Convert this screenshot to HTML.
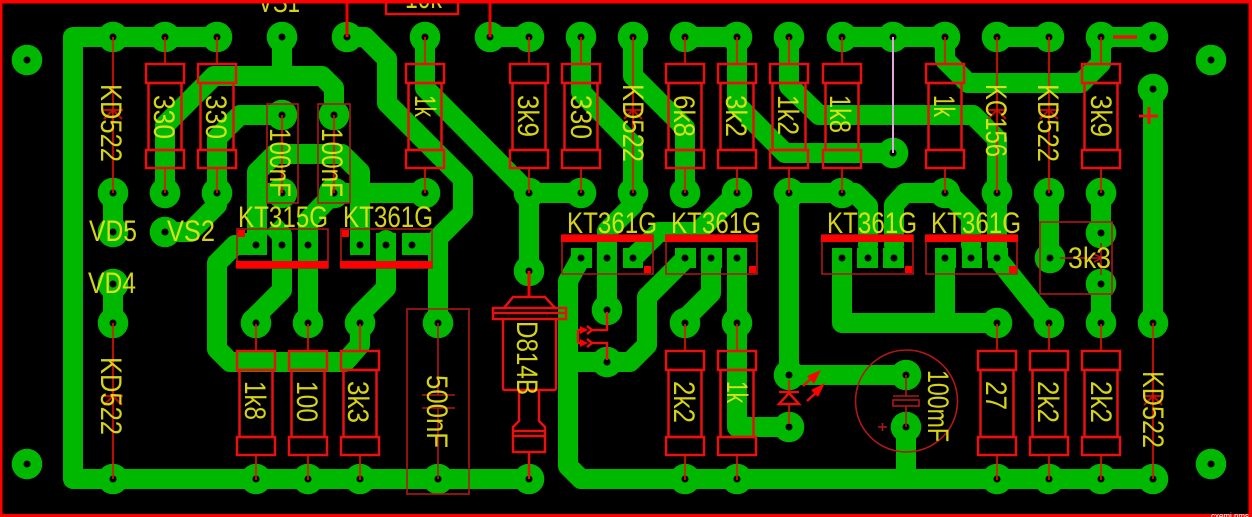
<!DOCTYPE html>
<html><head><meta charset="utf-8"><style>
html,body{margin:0;padding:0;background:#000}
svg{display:block}
text{font-family:"Liberation Sans",sans-serif;font-size:30px;fill:#e8e41c;fill-opacity:.92}
.t{fill:none;stroke:#00b800;stroke-width:20;stroke-linejoin:round;stroke-linecap:round}
.p{fill:#00b800}
.r{fill:none;stroke:#e81010;stroke-width:2.5}
.d{fill:none;stroke:#b01818;stroke-width:1.6}
.l{fill:none;stroke:#e01408;stroke-opacity:.8;stroke-width:2.2}
.b{fill:#ff0000}
</style></head><body>
<svg width="1252" height="517" viewBox="0 0 1252 517" xmlns="http://www.w3.org/2000/svg">
<defs>
<g id="pad"><circle r="15.3" class="p"/><circle r="3.5" fill="#000"/></g>
<g id="res"><path class="l" d="M0 0V27M0 131V156"/><rect x="-19" y="27" width="38" height="19" class="r"/><rect x="-19" y="113" width="38" height="18" class="r"/><rect x="-16.5" y="46" width="33" height="67" class="r"/></g>
<circle id="h" r="3.5" fill="#000"/>
<g id="dio"><path class="l" d="M0 0V156"/><path class="l" d="M-10 73H10M0 73L-9 82M0 73L9 82" stroke-width="1.2"/></g>
</defs>
<rect width="1252" height="517" fill="#000"/>

<!-- traces -->
<g class="t">
<path d="M217 37H73V479H529"/>
<path d="M282 37V76M165 193V125L214 76H322L334 88V115"/>
<path d="M282 115H240L217 138V205L190 232H165"/>
<path d="M256 245H257V172L275 154H342L360 172V245M257 193H282M334 193H425"/>
<path d="M256 245H235L217 263V349L230 362H345L360 345V323"/>
<path d="M272 225L282 235V290L256 316V323" stroke-linecap="butt"/>
<path d="M334 193L308 220V323"/>
<path d="M386 240V288L360 314V323"/>
<path d="M347 37H365L387 59V103L463 179V213L438 238V323"/>
<path d="M425 37V88L529 193V271M529 193H581M490 37H529"/>
<path d="M581 37V92L633 145V205L607 231V310"/>
<path d="M633 37V76L685 128V193"/>
<path d="M685 37H737V105L785 153H893"/>
<path d="M789 37V86L819 115H973L997 139V258L1049 323"/>
<path d="M842 37H945V60L968 83H1081L1101 63V37H1153"/>
<path d="M997 37H1049M1049 193V258M1101 193V233M1101 284V323M1153 89V323"/>
<path d="M581 258L568 281V466L581 479H1153"/>
<path d="M568 362H630L647 345V297L686 258"/>
<path d="M711 258V293L685 319V323"/>
<path d="M737 258V427H789"/>
<path d="M737 193L698 232H659L633 258"/>
<path d="M789 193V375H906M789 193H855L868 206V245"/>
<path d="M894 245V205L905 193H948L971 216V245"/>
<path d="M842 258V323H997M945 258V323"/>
<path d="M906 427V479"/>
<path d="M113 193V232M113 284V323"/>
</g>
<g class="p">
<rect x="237" y="233" width="30" height="22"/><rect x="272" y="233" width="20" height="22"/><rect x="298" y="233" width="20" height="22"/>
<rect x="350" y="233" width="20" height="22"/><rect x="376" y="233" width="20" height="22"/><rect x="402" y="233" width="30" height="22"/>
<rect x="571" y="248" width="21" height="20"/><rect x="597" y="248" width="20" height="20"/><rect x="623" y="248" width="20" height="20"/>
<rect x="675" y="248" width="21" height="20"/><rect x="701" y="248" width="21" height="20"/><rect x="727" y="248" width="20" height="20"/>
<rect x="832" y="248" width="20" height="20"/><rect x="857" y="248" width="21" height="20"/><rect x="883" y="248" width="21" height="20"/>
<rect x="935" y="248" width="21" height="20"/><rect x="962" y="248" width="20" height="20"/><rect x="988" y="248" width="20" height="20"/>
</g>

<!-- pads -->
<use href="#pad" x="113" y="37"/><use href="#pad" x="165" y="37"/><use href="#pad" x="217" y="37"/><use href="#pad" x="282" y="37"/><use href="#pad" x="347" y="37"/><use href="#pad" x="425" y="37"/><use href="#pad" x="490" y="37"/><use href="#pad" x="529" y="37"/><use href="#pad" x="581" y="37"/><use href="#pad" x="633" y="37"/><use href="#pad" x="685" y="37"/><use href="#pad" x="737" y="37"/><use href="#pad" x="789" y="37"/><use href="#pad" x="842" y="37"/><use href="#pad" x="893" y="37"/><use href="#pad" x="945" y="37"/><use href="#pad" x="997" y="37"/><use href="#pad" x="1049" y="37"/><use href="#pad" x="1101" y="37"/><use href="#pad" x="1153" y="37"/>
<use href="#pad" x="113" y="193"/><use href="#pad" x="165" y="193"/><use href="#pad" x="217" y="193"/><use href="#pad" x="282" y="193"/><use href="#pad" x="334" y="193"/><use href="#pad" x="425" y="193"/><use href="#pad" x="529" y="193"/><use href="#pad" x="581" y="193"/><use href="#pad" x="633" y="193"/><use href="#pad" x="685" y="193"/><use href="#pad" x="737" y="193"/><use href="#pad" x="789" y="193"/><use href="#pad" x="842" y="193"/><use href="#pad" x="945" y="193"/><use href="#pad" x="997" y="193"/><use href="#pad" x="1049" y="193"/><use href="#pad" x="1101" y="193"/>
<use href="#pad" x="282" y="115"/><use href="#pad" x="334" y="115"/><use href="#pad" x="113" y="232"/><use href="#pad" x="165" y="232"/><use href="#pad" x="113" y="284"/><use href="#pad" x="113" y="323"/><use href="#pad" x="256" y="323"/><use href="#pad" x="308" y="323"/><use href="#pad" x="360" y="323"/>
<use href="#pad" x="113" y="479"/><use href="#pad" x="256" y="479"/><use href="#pad" x="308" y="479"/><use href="#pad" x="360" y="479"/><use href="#pad" x="438" y="323"/><use href="#pad" x="438" y="479"/><use href="#pad" x="529" y="479"/><use href="#pad" x="529" y="271"/><use href="#pad" x="607" y="310"/><use href="#pad" x="607" y="362"/><use href="#pad" x="685" y="323"/><use href="#pad" x="737" y="323"/><use href="#pad" x="685" y="479"/><use href="#pad" x="737" y="479"/><use href="#pad" x="789" y="375"/><use href="#pad" x="789" y="427"/><use href="#pad" x="906" y="375"/><use href="#pad" x="906" y="427"/><use href="#pad" x="997" y="323"/><use href="#pad" x="1049" y="323"/><use href="#pad" x="1101" y="323"/><use href="#pad" x="1153" y="323"/><use href="#pad" x="997" y="479"/><use href="#pad" x="1049" y="479"/><use href="#pad" x="1101" y="479"/><use href="#pad" x="1153" y="479"/><use href="#pad" x="1153" y="89"/><use href="#pad" x="1101" y="233"/><use href="#pad" x="1101" y="284"/><use href="#pad" x="1050" y="258"/><use href="#pad" x="893" y="153"/>
<use href="#pad" x="27" y="60"/><use href="#pad" x="27" y="464"/><use href="#pad" x="1211" y="60"/><use href="#pad" x="1211" y="464"/>

<!-- transistor holes -->
<use href="#h" x="256" y="245"/><use href="#h" x="282" y="245"/><use href="#h" x="308" y="245"/><use href="#h" x="360" y="245"/><use href="#h" x="386" y="245"/><use href="#h" x="412" y="245"/>
<use href="#h" x="581" y="258"/><use href="#h" x="607" y="258"/><use href="#h" x="633" y="258"/><use href="#h" x="685" y="258"/><use href="#h" x="711" y="258"/><use href="#h" x="737" y="258"/>
<use href="#h" x="842" y="258"/><use href="#h" x="868" y="258"/><use href="#h" x="894" y="258"/><use href="#h" x="945" y="258"/><use href="#h" x="971" y="258"/><use href="#h" x="997" y="258"/>

<!-- resistors -->
<use href="#res" x="165" y="37"/><use href="#res" x="217" y="37"/><use href="#res" x="425" y="37"/><use href="#res" x="529" y="37"/><use href="#res" x="581" y="37"/><use href="#res" x="685" y="37"/><use href="#res" x="737" y="37"/><use href="#res" x="789" y="37"/><use href="#res" x="842" y="37"/><use href="#res" x="945" y="37"/><use href="#res" x="1101" y="37"/>
<use href="#res" x="256" y="324"/><use href="#res" x="308" y="324"/><use href="#res" x="360" y="324"/><use href="#res" x="685" y="324"/><use href="#res" x="737" y="324"/><use href="#res" x="997" y="324"/><use href="#res" x="1049" y="324"/><use href="#res" x="1101" y="324"/>

<!-- diodes -->
<use href="#dio" x="113" y="37"/><use href="#dio" x="113" y="323"/><use href="#dio" x="633" y="37"/><use href="#dio" x="997" y="37"/><use href="#dio" x="1049" y="37"/><use href="#dio" x="1153" y="323"/>

<!-- capacitors -->
<rect x="267" y="104" width="31" height="99" class="d"/><rect x="318" y="104" width="32" height="99" class="d"/>
<path class="l" d="M282 115V193M334 115V193" stroke-width="1"/>
<rect x="407" y="309" width="62" height="185" class="d"/>
<path class="d" d="M438 323V395M438 408V479M422 395H455M422 408H455"/>
<circle cx="906.5" cy="401" r="51" class="d"/>
<path class="d" d="M906 375V396M906 406V427M893 396H919M878 427H887M882.500 423V431"/>
<rect x="893" y="400" width="26" height="6" class="d"/>

<!-- transistor outlines -->
<path class="d" d="M237 229H328V268H237ZM341 229H432V268H341ZM562 235H653V274H562ZM666 235H757V274H666ZM822 235H913V274H822ZM926 235H1017V274H926Z"/>
<g class="b">
<rect x="236" y="261" width="92" height="7"/><rect x="340" y="261" width="92" height="7"/>
<rect x="238" y="230" width="7" height="7"/><rect x="342" y="230" width="7" height="7"/>
<rect x="561" y="235" width="92" height="7"/><rect x="665" y="235" width="92" height="7"/><rect x="821" y="235" width="92" height="7"/><rect x="925" y="235" width="93" height="7"/>
<rect x="644" y="266" width="7" height="7"/><rect x="749" y="266" width="7" height="7"/><rect x="905" y="266" width="7" height="7"/><rect x="1009" y="266" width="7" height="7"/>
</g>

<!-- 3k3 -->
<rect x="1040" y="222" width="72" height="72" class="d"/>
<path class="d" d="M1060 258H1101M1101 243V275M1094 254L1102 258L1094 262"/>

<!-- pink jumper -->
<path d="M893 37V153" stroke="#e6a4dc" stroke-width="2"/>

<!-- D814B -->
<path d="M529 271V297" stroke="#ff0000" stroke-width="3"/>
<path class="r" d="M504 308L513 297H545L555 308"/>
<rect x="493" y="308" width="73" height="11" class="r"/><path class="r" d="M493 313H566"/>
<path class="r" d="M503 319V388Q503 390 505 390H554Q556 390 556 388V319"/>
<path class="r" d="M519 390V421L513 427V436M539 390V421L545 427V436M513 431H545"/>
<rect x="513" y="436" width="32" height="16" class="r"/>
<path class="r" d="M529 452V479"/>

<!-- opto arrows -->
<path class="r" d="M607 312V330H592M587 326L592 330L587 334M607 360V343H592M587 339L592 343L587 347M578 330V343M578 330H586M578 343H586"/>
<path class="b" d="M588 330L580 326V334ZM588 343L580 339V347Z"/>

<!-- LED -->
<path class="r" d="M779 392H799M789 393L779 404H799Z"/>
<path class="l" d="M789 380V392M789 404V424"/>
<path class="r" d="M803 386L815 375M807 401L819 390" stroke-width="1.200"/>
<path class="b" d="M821 370L807 376L814 384ZM825 383L811 390L818 397Z"/>

<!-- leads & frame -->
<path d="M347 0V37M490 0V37" stroke="#f00000" stroke-width="3"/>
<rect x="386" y="-3" width="72" height="17" class="r"/>
<path d="M1113 37H1137" stroke="#f01010" stroke-width="3.500"/>
<path d="M1139 116H1158M1149 107V124" stroke="#f01010" stroke-width="3"/>

<!-- labels -->
<text x="258" y="12" textLength="42" lengthAdjust="spacingAndGlyphs">VS1</text>
<text x="405" y="8" textLength="37" lengthAdjust="spacingAndGlyphs">10k</text>
<text x="89" y="241" textLength="48" lengthAdjust="spacingAndGlyphs">VD5</text>
<text x="167" y="241" textLength="48" lengthAdjust="spacingAndGlyphs">VS2</text>
<text x="88" y="293" textLength="48" lengthAdjust="spacingAndGlyphs">VD4</text>
<text x="238" y="227" textLength="90" lengthAdjust="spacingAndGlyphs">KT315G</text>
<text x="343" y="227" textLength="90" lengthAdjust="spacingAndGlyphs">KT361G</text>
<text x="567" y="233" textLength="90" lengthAdjust="spacingAndGlyphs">KT361G</text>
<text x="671" y="233" textLength="90" lengthAdjust="spacingAndGlyphs">KT361G</text>
<text x="827" y="233" textLength="90" lengthAdjust="spacingAndGlyphs">KT361G</text>
<text x="931" y="233" textLength="90" lengthAdjust="spacingAndGlyphs">KT361G</text>
<text x="1068" y="268" textLength="43" lengthAdjust="spacingAndGlyphs">3k3</text>

<text transform="translate(101,84) rotate(90)" textLength="78" lengthAdjust="spacingAndGlyphs">KD522</text>
<text transform="translate(154,95) rotate(90)" textLength="44" lengthAdjust="spacingAndGlyphs">330</text>
<text transform="translate(206,95) rotate(90)" textLength="44" lengthAdjust="spacingAndGlyphs">330</text>
<text transform="translate(270,128) rotate(90)" textLength="69" lengthAdjust="spacingAndGlyphs">100nF</text>
<text transform="translate(322,128) rotate(90)" textLength="69" lengthAdjust="spacingAndGlyphs">100nF</text>
<text transform="translate(415,95) rotate(90)" textLength="22" lengthAdjust="spacingAndGlyphs">1k</text>
<text transform="translate(518,95) rotate(90)" textLength="42" lengthAdjust="spacingAndGlyphs">3k9</text>
<text transform="translate(571,95) rotate(90)" textLength="44" lengthAdjust="spacingAndGlyphs">330</text>
<text transform="translate(623,84) rotate(90)" textLength="78" lengthAdjust="spacingAndGlyphs">KD522</text>
<text transform="translate(674,95) rotate(90)" textLength="42" lengthAdjust="spacingAndGlyphs">6k8</text>
<text transform="translate(726,95) rotate(90)" textLength="42" lengthAdjust="spacingAndGlyphs">3k2</text>
<text transform="translate(778,95) rotate(90)" textLength="40" lengthAdjust="spacingAndGlyphs">1k2</text>
<text transform="translate(830,95) rotate(90)" textLength="38" lengthAdjust="spacingAndGlyphs">1k8</text>
<text transform="translate(934,95) rotate(90)" textLength="22" lengthAdjust="spacingAndGlyphs">1k</text>
<text transform="translate(986,84) rotate(90)" textLength="73" lengthAdjust="spacingAndGlyphs">KC156</text>
<text transform="translate(1038,84) rotate(90)" textLength="78" lengthAdjust="spacingAndGlyphs">KD522</text>
<text transform="translate(1091,95) rotate(90)" textLength="42" lengthAdjust="spacingAndGlyphs">3k9</text>

<text transform="translate(101,357) rotate(90)" textLength="78" lengthAdjust="spacingAndGlyphs">KD522</text>
<text transform="translate(245,381) rotate(90)" textLength="39" lengthAdjust="spacingAndGlyphs">1k8</text>
<text transform="translate(297,381) rotate(90)" textLength="41" lengthAdjust="spacingAndGlyphs">100</text>
<text transform="translate(348,381) rotate(90)" textLength="42" lengthAdjust="spacingAndGlyphs">3k3</text>
<text transform="translate(427,375) rotate(90)" textLength="73" lengthAdjust="spacingAndGlyphs">500nF</text>
<text transform="translate(517,321) rotate(90)" textLength="74" lengthAdjust="spacingAndGlyphs">D814B</text>
<text transform="translate(674,381) rotate(90)" textLength="42" lengthAdjust="spacingAndGlyphs">2k2</text>
<text transform="translate(727,381) rotate(90)" textLength="22" lengthAdjust="spacingAndGlyphs">1k</text>
<text transform="translate(928,370) rotate(90)" textLength="72" lengthAdjust="spacingAndGlyphs">100mF</text>
<text transform="translate(986,381) rotate(90)" textLength="29" lengthAdjust="spacingAndGlyphs">27</text>
<text transform="translate(1038,381) rotate(90)" textLength="42" lengthAdjust="spacingAndGlyphs">2k2</text>
<text transform="translate(1091,381) rotate(90)" textLength="42" lengthAdjust="spacingAndGlyphs">2k2</text>
<text transform="translate(1143,371) rotate(90)" textLength="77" lengthAdjust="spacingAndGlyphs">KD522</text>

<!-- frame -->
<rect x="0" y="0" width="1252" height="3.500" fill="#ff0000"/>
<rect x="0" y="0" width="2.500" height="517" fill="#ff0000"/>
<rect x="1248.500" y="0" width="3.500" height="517" fill="#ff0000"/>
<rect x="0" y="514" width="1252" height="3" fill="#ff0000"/>
<text x="1211" y="519" style="font-size:9px;fill:#fff;fill-opacity:1" textLength="38" lengthAdjust="spacingAndGlyphs">cxemi.nms</text>
</svg>
</body></html>
